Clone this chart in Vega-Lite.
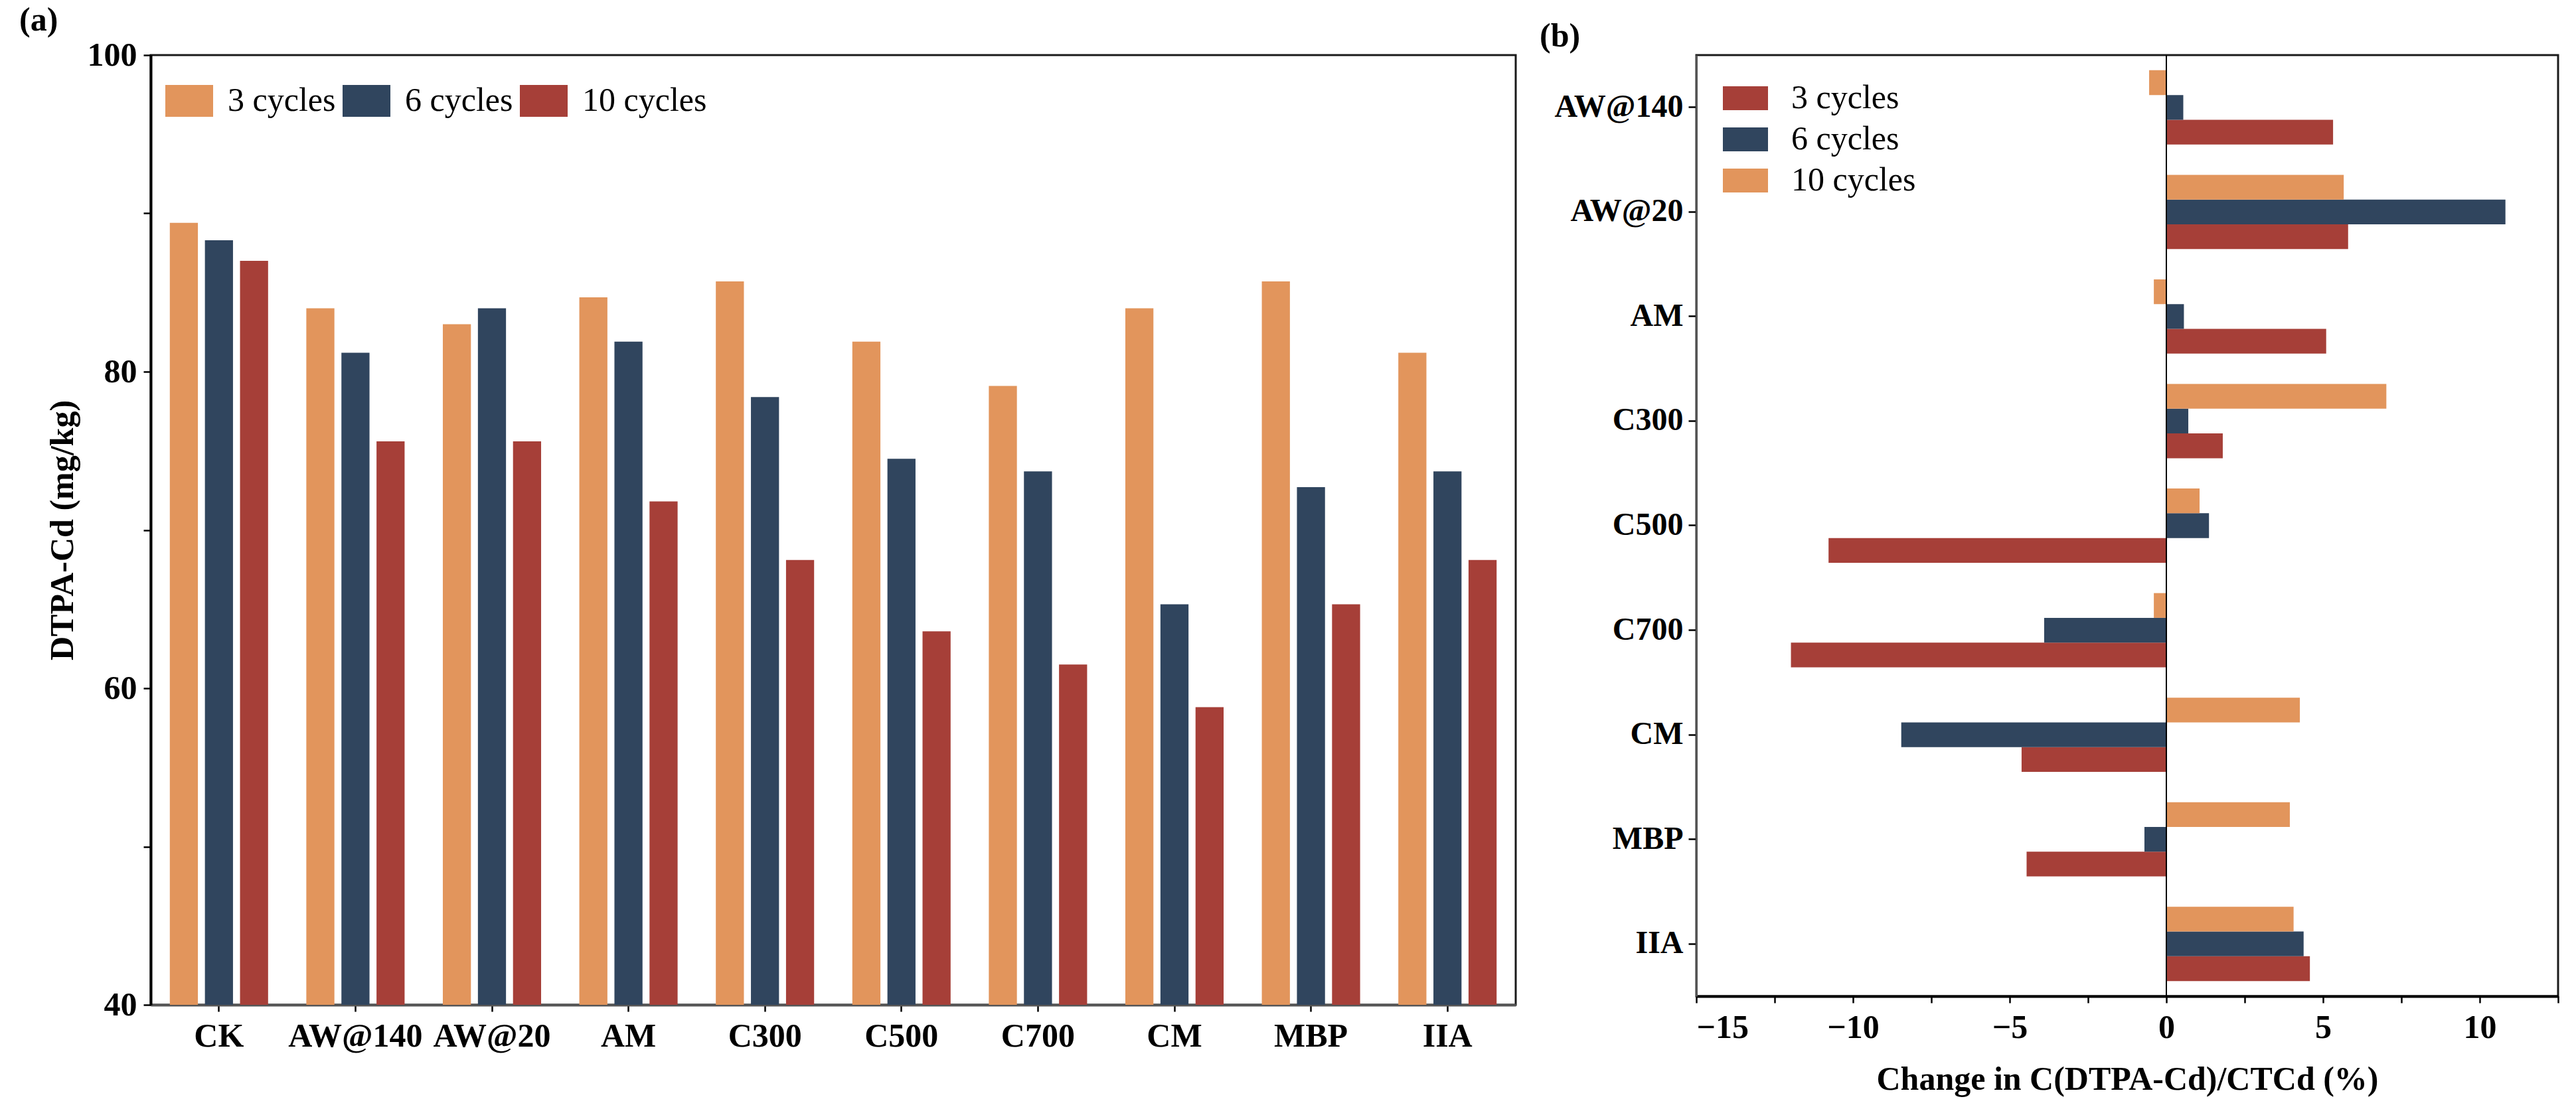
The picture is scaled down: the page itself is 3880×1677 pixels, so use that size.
{
  "$schema": "https://vega.github.io/schema/vega-lite/v6.json",
  "background": "white",
  "padding": {"left": 27, "top": 4, "right": 20, "bottom": 10},
  "spacing": 32,
  "config": {
    "font": "Liberation Serif",
    "view": {"stroke": "#1a1a1a", "strokeWidth": 3},
    "axis": {
      "labelFont": "Liberation Serif",
      "titleFont": "Liberation Serif",
      "labelColor": "black",
      "titleColor": "black",
      "domainColor": "black",
      "tickColor": "black",
      "grid": false,
      "labelLimit": 400
    },
    "legend": {"labelFont": "Liberation Serif", "labelColor": "black"}
  },
  "datasets": {
    "a": [
      {"sample": "CK", "cycle": "3 cycles", "value": 89.4},
      {"sample": "CK", "cycle": "6 cycles", "value": 88.3},
      {"sample": "CK", "cycle": "10 cycles", "value": 87.0},
      {"sample": "AW@140", "cycle": "3 cycles", "value": 84.0},
      {"sample": "AW@140", "cycle": "6 cycles", "value": 81.2},
      {"sample": "AW@140", "cycle": "10 cycles", "value": 75.6},
      {"sample": "AW@20", "cycle": "3 cycles", "value": 83.0},
      {"sample": "AW@20", "cycle": "6 cycles", "value": 84.0},
      {"sample": "AW@20", "cycle": "10 cycles", "value": 75.6},
      {"sample": "AM", "cycle": "3 cycles", "value": 84.7},
      {"sample": "AM", "cycle": "6 cycles", "value": 81.9},
      {"sample": "AM", "cycle": "10 cycles", "value": 71.8},
      {"sample": "C300", "cycle": "3 cycles", "value": 85.7},
      {"sample": "C300", "cycle": "6 cycles", "value": 78.4},
      {"sample": "C300", "cycle": "10 cycles", "value": 68.1},
      {"sample": "C500", "cycle": "3 cycles", "value": 81.9},
      {"sample": "C500", "cycle": "6 cycles", "value": 74.5},
      {"sample": "C500", "cycle": "10 cycles", "value": 63.6},
      {"sample": "C700", "cycle": "3 cycles", "value": 79.1},
      {"sample": "C700", "cycle": "6 cycles", "value": 73.7},
      {"sample": "C700", "cycle": "10 cycles", "value": 61.5},
      {"sample": "CM", "cycle": "3 cycles", "value": 84.0},
      {"sample": "CM", "cycle": "6 cycles", "value": 65.3},
      {"sample": "CM", "cycle": "10 cycles", "value": 58.8},
      {"sample": "MBP", "cycle": "3 cycles", "value": 85.7},
      {"sample": "MBP", "cycle": "6 cycles", "value": 72.7},
      {"sample": "MBP", "cycle": "10 cycles", "value": 65.3},
      {"sample": "IIA", "cycle": "3 cycles", "value": 81.2},
      {"sample": "IIA", "cycle": "6 cycles", "value": 73.7},
      {"sample": "IIA", "cycle": "10 cycles", "value": 68.1}
    ],
    "b": [
      {"sample": "AW@140", "cycle": "3 cycles", "value": 5.32},
      {"sample": "AW@140", "cycle": "6 cycles", "value": 0.54},
      {"sample": "AW@140", "cycle": "10 cycles", "value": -0.55},
      {"sample": "AW@20", "cycle": "3 cycles", "value": 5.8},
      {"sample": "AW@20", "cycle": "6 cycles", "value": 10.82},
      {"sample": "AW@20", "cycle": "10 cycles", "value": 5.66},
      {"sample": "AM", "cycle": "3 cycles", "value": 5.1},
      {"sample": "AM", "cycle": "6 cycles", "value": 0.56},
      {"sample": "AM", "cycle": "10 cycles", "value": -0.4},
      {"sample": "C300", "cycle": "3 cycles", "value": 1.8},
      {"sample": "C300", "cycle": "6 cycles", "value": 0.7},
      {"sample": "C300", "cycle": "10 cycles", "value": 7.02},
      {"sample": "C500", "cycle": "3 cycles", "value": -10.78},
      {"sample": "C500", "cycle": "6 cycles", "value": 1.36},
      {"sample": "C500", "cycle": "10 cycles", "value": 1.06},
      {"sample": "C700", "cycle": "3 cycles", "value": -11.98},
      {"sample": "C700", "cycle": "6 cycles", "value": -3.9},
      {"sample": "C700", "cycle": "10 cycles", "value": -0.4},
      {"sample": "CM", "cycle": "3 cycles", "value": -4.62},
      {"sample": "CM", "cycle": "6 cycles", "value": -8.46},
      {"sample": "CM", "cycle": "10 cycles", "value": 4.26},
      {"sample": "MBP", "cycle": "3 cycles", "value": -4.46},
      {"sample": "MBP", "cycle": "6 cycles", "value": -0.7},
      {"sample": "MBP", "cycle": "10 cycles", "value": 3.94},
      {"sample": "IIA", "cycle": "3 cycles", "value": 4.58},
      {"sample": "IIA", "cycle": "6 cycles", "value": 4.38},
      {"sample": "IIA", "cycle": "10 cycles", "value": 4.06}
    ]
  },
  "hconcat": [
    {
      "width": 2056,
      "height": 1431,
      "title": {"text": "(a)", "anchor": "start", "frame": "group", "dx": -198, "fontSize": 50, "fontWeight": "bold", "font": "Liberation Serif", "offset": 2, "color": "black"},
      "data": {"name": "a"},
      "mark": {"type": "bar"},
      "encoding": {
        "x": {
          "field": "sample", "type": "nominal",
          "sort": ["CK", "AW@140", "AW@20", "AM", "C300", "C500", "C700", "CM", "MBP", "IIA"],
          "scale": {"paddingInner": 0.28, "paddingOuter": 0.14},
          "axis": {"title": null, "labelAngle": 0, "labelFontSize": 50, "labelFontWeight": "bold", "tickSize": 10, "tickWidth": 2.5, "labelPadding": 12, "domainWidth": 4, "domainColor": "#555555"}
        },
        "xOffset": {"field": "cycle", "sort": ["3 cycles", "6 cycles", "10 cycles"], "scale": {"paddingInner": 0.2, "paddingOuter": 0}},
        "y": {
          "field": "value", "type": "quantitative",
          "scale": {"domain": [40, 100], "nice": false, "zero": false},
          "axis": {"title": "DTPA-Cd (mg/kg)", "titleFontSize": 50, "titleFontWeight": "bold", "titlePadding": 12, "values": [40, 50, 60, 70, 80, 90, 100], "labelExpr": "datum.value % 20 == 0 ? datum.label : ''", "labelFontSize": 50, "labelFontWeight": "bold", "tickSize": 11, "tickWidth": 2.5, "labelPadding": 10, "domainWidth": 4}
        },
        "y2": {"datum": 40},
        "color": {
          "field": "cycle", "type": "nominal",
          "scale": {"domain": ["3 cycles", "6 cycles", "10 cycles"], "range": ["#E2955C", "#30455E", "#A63F38"]},
          "legend": {"orient": "none", "legendX": 22, "legendY": 33, "direction": "horizontal", "title": null, "symbolType": "M-1,-0.667H1V0.667H-1Z", "symbolSize": 5184, "symbolStrokeWidth": 0, "labelFontSize": 50, "labelOffset": 22, "columnPadding": 10, "labelLimit": 400}
        }
      }
    },
    {
      "width": 1298,
      "height": 1418,
      "title": {"text": "(b)", "anchor": "start", "frame": "group", "dx": -236, "fontSize": 50, "fontWeight": "bold", "font": "Liberation Serif", "offset": 2, "color": "black"},
      "layer": [
        {
          "data": {"name": "b"},
          "mark": {"type": "bar"},
          "encoding": {
            "y": {
              "field": "sample", "type": "nominal",
              "sort": ["AW@140", "AW@20", "AM", "C300", "C500", "C700", "CM", "MBP", "IIA"],
              "scale": {"paddingInner": 0.29, "paddingOuter": 0.145},
              "axis": {"title": null, "labelFontSize": 48, "labelFontWeight": "bold", "tickSize": 12, "tickWidth": 2.5, "labelPadding": 8, "domainWidth": 3, "domainColor": "#555555", "labelLimit": 400}
            },
            "yOffset": {"field": "cycle", "sort": ["10 cycles", "6 cycles", "3 cycles"], "scale": {"paddingInner": 0, "paddingOuter": 0}},
            "x": {
              "field": "value", "type": "quantitative",
              "scale": {"domain": [-15, 12.5], "nice": false, "zero": false},
              "axis": {"title": "Change in C(DTPA-Cd)/CTCd (%)", "titleFontSize": 50, "titleFontWeight": "bold", "titlePadding": 28, "values": [-15, -12.5, -10, -7.5, -5, -2.5, 0, 2.5, 5, 7.5, 10, 12.5], "labelExpr": "datum.value % 5 == 0 ? datum.label : ''", "labelFontSize": 50, "labelFontWeight": "bold", "tickSize": 10, "tickWidth": 2.5, "labelPadding": 12, "domainWidth": 4}
            },
            "x2": {"datum": 0},
            "color": {
              "field": "cycle", "type": "nominal",
              "scale": {"domain": ["3 cycles", "6 cycles", "10 cycles"], "range": ["#A63F38", "#30455E", "#E2955C"]},
              "legend": {"orient": "none", "legendX": 40, "legendY": 31, "direction": "vertical", "title": null, "symbolType": "M-1,-0.53H1V0.53H-1Z", "symbolSize": 4624, "symbolStrokeWidth": 0, "labelFontSize": 50, "labelOffset": 35, "rowPadding": 3, "labelLimit": 400}
            }
          }
        },
        {
          "data": {"values": [{"zero": 0}]},
          "mark": {"type": "rule", "color": "black", "strokeWidth": 2},
          "encoding": {"x": {"field": "zero", "type": "quantitative"}}
        }
      ]
    }
  ],
  "resolve": {"scale": {"color": "independent"}, "legend": {"color": "independent"}}
}
